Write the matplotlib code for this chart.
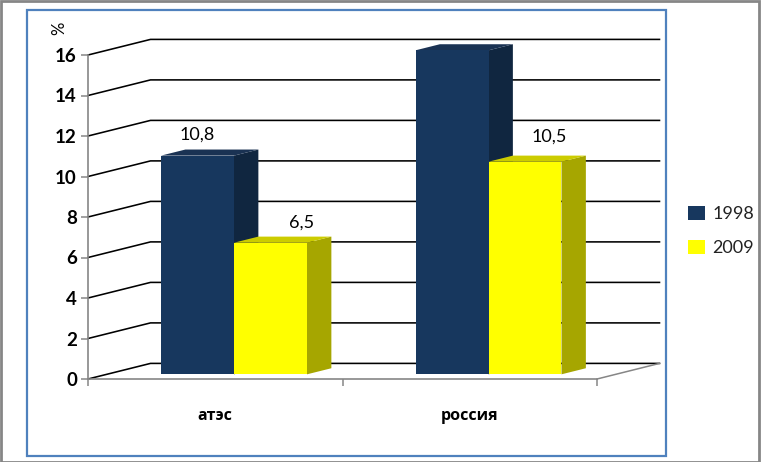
import matplotlib
matplotlib.use("Agg")
import matplotlib.pyplot as plt
from matplotlib.patches import Rectangle, Patch

categories = ["атэс", "россия"]
series_names = ["1998", "2009"]
values_1998 = [10.8, 16.0]
values_2009 = [6.5, 10.5]
y_ticks = [0, 2, 4, 6, 8, 10, 12, 14, 16]

W, H = 761, 462
fig = plt.figure(figsize=(W / 100, H / 100), dpi=100, facecolor="white")
L, R, T, B = 88, 597, 55, 379
ax = fig.add_axes([L / W, 1 - B / H, (R - L) / W, (B - T) / H])
ax.set_xlim(0, 2)
ax.set_ylim(0, 16)
ax.patch.set_alpha(0)

FONT = ["Lato", "Open Sans", "DejaVu Sans"]
CYR = ["Open Sans", "DejaVu Sans"]

# figure frames
fig.add_artist(Rectangle((0.5 / W, 0.5 / H), (W - 3) / W, (H - 1.5) / H, fill=False,
                         ec="#868686", lw=2, transform=fig.transFigure))
fig.add_artist(Rectangle((27 / W, 1 - 456 / H), 639 / W, 446 / H, fill=False,
                         ec="#4F81BD", lw=1.6, transform=fig.transFigure))

# oblique depth projection (pixels -> data units)
DX = 62.5 / ((R - L) / 2)
DY = 15.6 / ((B - T) / 16)


def p(x, y, d):
    return x + d * DX, y + d * DY


# gridlines on side and back wall
for v in y_ticks:
    pts = [p(0, v, 0), p(0, v, 1), p(2, v, 1)]
    ax.plot(*zip(*pts), color="black", lw=1.15, clip_on=False, zorder=1,
            solid_joinstyle="miter")

# floor, right edge
fl = [p(2, 0, 0), p(2, 0, 1)]
ax.plot(*zip(*fl), color="#868686", lw=1.1, clip_on=False, zorder=1.5)

# bars
BW = 0.2868
D0, D1 = 0.30, 0.69
styles = [
    ("#17375E", "#102640", "#1A3253"),
    ("#FFFF00", "#A6A600", "#CCCC00"),
]
z = 2
for i, c in enumerate(categories):
    cx = i + 0.5
    for j, vals in enumerate([values_1998, values_2009]):
        v = vals[i]
        x0 = cx - BW + j * BW
        x1 = x0 + BW
        front, side, top = styles[j]
        ax.fill(*zip(p(x1, 0, D0), p(x1, 0, D1), p(x1, v, D1), p(x1, v, D0)),
                color=side, lw=0, clip_on=False, zorder=z)
        ax.fill(*zip(p(x0, v, D0), p(x1, v, D0), p(x1, v, D1), p(x0, v, D1)),
                color=top, lw=0, clip_on=False, zorder=z)
        ax.fill(*zip(p(x0, 0, D0), p(x1, 0, D0), p(x1, v, D0), p(x0, v, D0)),
                color=front, lw=0, clip_on=False, zorder=z)
        z += 0.1

# data labels
label_offsets = {(0, 0): (0, 13), (0, 1): (31, 12.5), (1, 0): (20, 13), (1, 1): (24, 17)}
for i, c in enumerate(categories):
    for j, vals in enumerate([values_1998, values_2009]):
        v = vals[i]
        x = i + 0.5 - BW / 2 + j * BW
        ox, oy = label_offsets[(i, j)]
        ax.annotate(f"{v:.1f}".replace(".", ","), p(x, v, D0), xytext=(ox * 0.72, oy * 0.72),
                    textcoords="offset points", ha="center", va="bottom",
                    fontsize=13, family=FONT, color="black", zorder=10)

# axes
for s in ("top", "right"):
    ax.spines[s].set_visible(False)
for s in ("left", "bottom"):
    ax.spines[s].set_color("#868686")
    ax.spines[s].set_linewidth(1.2)
ax.set_yticks(y_ticks)
ax.set_yticklabels([str(t) for t in y_ticks], fontsize=13.5, fontweight="bold", family=FONT)
ax.tick_params(axis="y", length=5, width=1.1, color="#868686", pad=3)
ax.set_xticks([0, 1, 2])
ax.set_xticklabels(["", "", ""])
ax.tick_params(axis="x", which="major", length=5, width=1.1, color="#868686")
ax.set_xticks([0.5, 1.5], minor=True)
ax.set_xticklabels(categories, minor=True, fontsize=11.5, fontweight="bold", family=CYR)
ax.tick_params(axis="x", which="minor", length=0, pad=21)

fig.text(59 / W, 1 - 28 / H, "%", rotation=90, ha="center", va="center",
         fontsize=12, family=FONT, color="black")

# legend
handles = [Patch(facecolor=styles[0][0], label=series_names[0]),
           Patch(facecolor=styles[1][0], label=series_names[1])]
fig.legend(handles=handles, loc="center left", bbox_to_anchor=(672 / W, 1 - 231 / H),
           frameon=False, prop={"family": FONT, "size": 13}, labelcolor="#222222",
           handlelength=0.95, handleheight=0.8, handletextpad=0.4, labelspacing=1.0)

fig.savefig("out.png", dpi=100)
